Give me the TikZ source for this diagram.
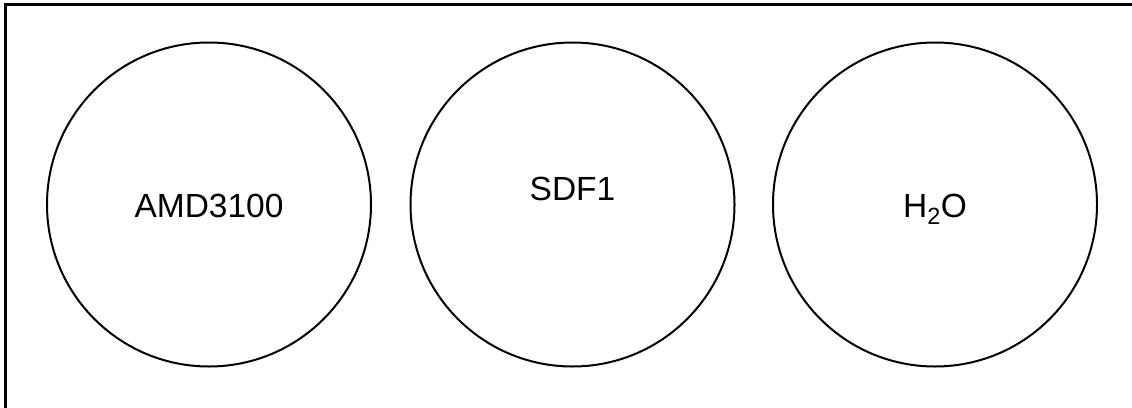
\documentclass[tikz,border=0pt]{standalone}
\usepackage{fontspec}
\setmainfont{Liberation Sans}
\begin{document}
\begin{tikzpicture}[x=1pt,y=-1pt,
  well/.style={circle, draw=black, line width=2pt, minimum size=324pt, inner sep=0pt,
    text height=25pt, text depth=0pt,
    font=\fontsize{33.5}{40}\selectfont},
  raised/.style={text depth=34pt}]
  \useasboundingbox (0,0) rectangle (1132,407);
  % frame (top and left edges)
  \draw[line width=2.5pt] (5.5,420) -- (5.5,4.5) -- (1145,4.5);
  % sample wells
  \node[well] (amd) at (209,204.5) {AMD3100};
  \node[well, raised] (sdf) at (572.5,204.5) {SDF1};
  \node[well] (water) at (935,204.5) {H\textsubscript{2}O};
\end{tikzpicture}
\end{document}
